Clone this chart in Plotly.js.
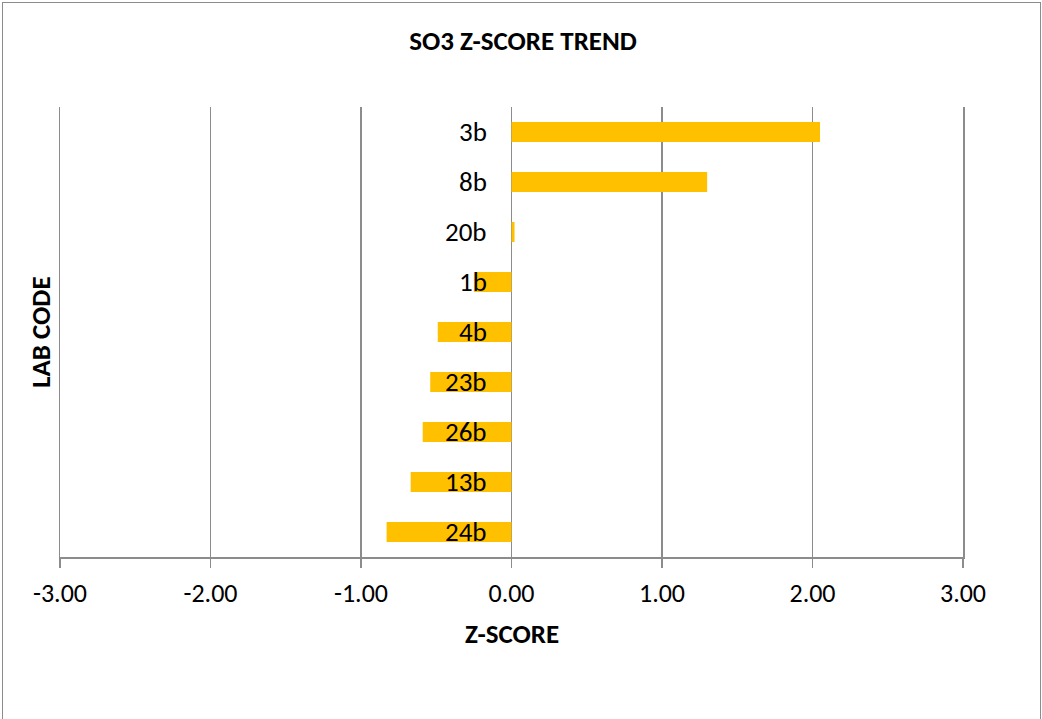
<!DOCTYPE html>
<html>
<head>
<meta charset="utf-8">
<script src="https://cdn.plot.ly/plotly-3.0.1.min.js"></script>
<style>
  html, body { margin: 0; padding: 0; background: #fff; }
  #wrap { position: absolute; left: 0; top: 0; width: 1042px; height: 719px; overflow: hidden; }
  #frame { position: absolute; left: 2px; top: 2px; width: 1037px; height: 730px; border: 1.5px solid #8c8c8c; pointer-events: none; }
  #chart { position: absolute; left: 0; top: 0; width: 1042px; height: 719px; }
</style>
</head>
<body>
<div id="wrap">
  <div id="chart"></div>
  <div id="frame"></div>
</div>
<script>
const labCodes = ["3b", "8b", "20b", "1b", "4b", "23b", "26b", "13b", "24b"];
const zScores = [2.05, 1.30, 0.02, -0.25, -0.49, -0.54, -0.59, -0.67, -0.83];
const xTickVals = [-3, -2, -1, 0, 1, 2, 3];
const xTickText = ["-3.00", "-2.00", "-1.00", "0.00", "1.00", "2.00", "3.00"];

const FONT = "Carlito, Lato, 'Open Sans', sans-serif";
const W = 1042, H = 719;
const M = { l: 60, r: 79, t: 107, b: 162 };
const plotW = W - M.l - M.r, plotH = H - M.t - M.b;

const trace = {
  type: "bar",
  orientation: "h",
  x: zScores,
  y: labCodes,
  width: 0.4,
  marker: { color: "#FFC000" },
  hoverinfo: "x+y"
};

const labelAnnotations = labCodes.map(function (c) {
  return {
    x: 0, y: c, xref: "x", yref: "y",
    text: c, showarrow: false,
    xanchor: "right", yanchor: "middle",
    xshift: -23, yshift: 1,
    font: { family: FONT, size: 27, color: "#000" }
  };
});

const layout = {
  width: W,
  height: H,
  margin: M,
  paper_bgcolor: "#fff",
  plot_bgcolor: "#fff",
  showlegend: false,
  font: { family: FONT, color: "#000" },
  title: {
    text: "<b>SO3 Z-SCORE TREND</b>",
    x: 523 / W, xref: "container", xanchor: "center",
    y: 1 - 41 / H, yref: "container", yanchor: "middle",
    font: { family: FONT, size: 27, color: "#000" }
  },
  xaxis: {
    range: [-3, 3],
    tickvals: xTickVals,
    ticktext: xTickText,
    showgrid: true,
    gridcolor: "#8c8c8c",
    gridwidth: 1.5,
    zeroline: false,
    showline: true,
    linecolor: "#8c8c8c",
    linewidth: 2,
    ticks: "outside",
    ticklen: 9,
    tickwidth: 1.5,
    tickcolor: "#8c8c8c",
    ticklabelstandoff: 3,
    tickfont: { family: FONT, size: 26, color: "#000" },
    fixedrange: true
  },
  yaxis: {
    type: "category",
    categoryorder: "array",
    categoryarray: labCodes,
    autorange: "reversed",
    showticklabels: false,
    showgrid: false,
    zeroline: false,
    showline: true,
    mirror: true,
    linecolor: "#8c8c8c",
    linewidth: 1.5,
    ticks: "",
    fixedrange: true
  },
  annotations: labelAnnotations.concat([
    {
      x: (40 - M.l) / plotW, xref: "paper", xanchor: "center",
      y: 0.5, yref: "paper", yanchor: "middle",
      text: "<b>LAB CODE</b>", showarrow: false, textangle: -90,
      font: { family: FONT, size: 27, color: "#000" }
    },
    {
      x: 0.5, xref: "paper", xanchor: "center",
      y: (M.t + plotH - 633) / plotH, yref: "paper", yanchor: "middle",
      text: "<b>Z-SCORE</b>", showarrow: false,
      font: { family: FONT, size: 27, color: "#000" }
    }
  ])
};

Plotly.newPlot("chart", [trace], layout, { displayModeBar: false, staticPlot: true });
</script>
</body>
</html>
